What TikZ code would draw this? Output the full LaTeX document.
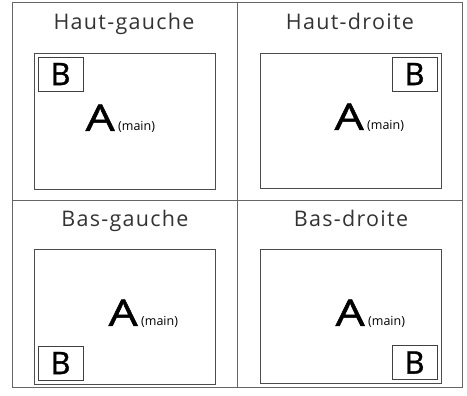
\documentclass[tikz,border=0pt]{standalone}
\usepackage{fontspec}
\usepackage{graphicx}
\setmainfont{Open Sans}
\tikzset{
  frame/.style={draw=black!60, line width=0.8pt},
  screen/.style={draw=black!70, line width=0.8pt},
  subwin/.style={draw=black!75, line width=0.8pt, minimum width=45pt, minimum height=34pt, inner sep=0pt, font=\fontsize{31}{31}\selectfont\addfontfeatures{FakeBold=1.2}},
  title/.style={anchor=base, inner sep=0pt, text=black!80, font=\fontsize{21.5}{21.5}\selectfont\addfontfeatures{LetterSpace=6}},
  mainA/.style={anchor=base east, inner sep=0pt, font=\fontsize{37}{37}\selectfont\addfontfeatures{FakeBold=1.2}},
  mainlbl/.style={anchor=base west, inner sep=0pt, font=\fontsize{12.5}{12.5}\selectfont}
}
\newcommand{\wideA}{\scalebox{1.25}[1]{A}}
\begin{document}
\begin{tikzpicture}[x=1pt, y=-1pt]
	\useasboundingbox (0,0) rectangle (467,396);
	\draw[frame] (12,2) rectangle (462,387);
	\draw[frame] (237,2) -- (237,387);
	\draw[frame] (12,200) -- (462,200);
	% haut
	\node[title] (t1) at (124,30) {Haut-gauche};
	\node[title] (t2) at (350,30) {Haut-droite};
	\draw[screen] (34,53) rectangle (215,189);
	\draw[screen] (260,53) rectangle (441,188);
	\node[subwin] (b1) at (60.5,74) {B};
	\node[subwin] (b2) at (414.5,74) {B};
	\node[mainA] (a1) at (115,131) {\wideA};
	\node[mainlbl] (m1) at ([xshift=3pt]a1.base east) {(main)};
	\node[mainA] (a2) at (364,130) {\wideA};
	\node[mainlbl] (m2) at ([xshift=3pt]a2.base east) {(main)};
	% bas
	\node[title] (t3) at (125,227) {Bas-gauche};
	\node[title] (t4) at (351,227) {Bas-droite};
	\draw[screen] (34,249) rectangle (215,384);
	\draw[screen] (260,249) rectangle (441,383);
	\node[subwin] (b3) at (60.5,363) {B};
	\node[subwin] (b4) at (414.5,362.5) {B};
	\node[mainA] (a3) at (138,326) {\wideA};
	\node[mainlbl] (m3) at ([xshift=3pt]a3.base east) {(main)};
	\node[mainA] (a4) at (365,326) {\wideA};
	\node[mainlbl] (m4) at ([xshift=3pt]a4.base east) {(main)};
\end{tikzpicture}
\end{document}
